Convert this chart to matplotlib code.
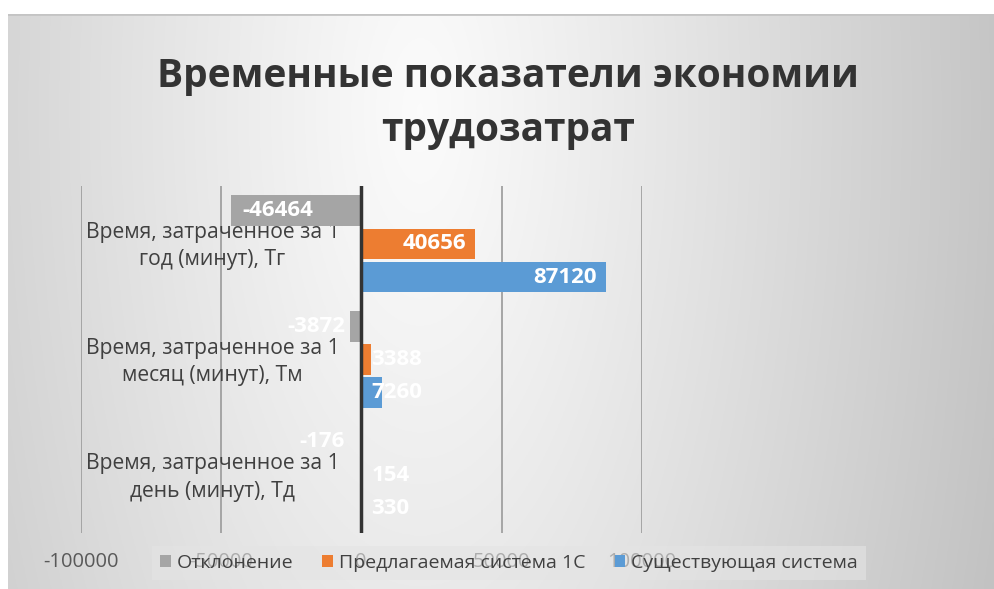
import numpy as np
import matplotlib
matplotlib.use("Agg")
import matplotlib.pyplot as plt
import matplotlib.transforms as mtransforms

# data
categories = ["Время, затраченное за 1\nдень (минут), Тд",
              "Время, затраченное за 1\nмесяц (минут), Тм",
              "Время, затраченное за 1\nгод (минут), Тг"]
series_names = ["Отклонение", "Предлагаемая система 1С", "Существующая система"]
deviation = [-176, -3872, -46464]
proposed = [154, 3388, 40656]
existing = [330, 7260, 87120]
x_ticks = [-100000, -50000, 0, 50000, 100000]
colors = ["#a5a5a5", "#ed7d31", "#5b9bd5"]

plt.rcParams["font.family"] = ["Open Sans", "DejaVu Sans"]

W, H = 994, 589
fig = plt.figure(figsize=(W / 100, H / 100), dpi=100)
fig.patch.set_facecolor("white")

# radial gradient background of the chart area
bg = fig.add_axes([8 / W, 0, 1 - 8 / W, (H - 14) / H])
gx, gy = np.meshgrid(np.linspace(8, W, 400), np.linspace(14, H, 240))
d = np.sqrt(((gx - 420) / 600) ** 2 + ((gy - 110) / 1400) ** 2)
shade = np.clip(0.985 - 0.22 * d ** 1.1, 0.72, 0.985)
bg.imshow(np.dstack([shade] * 3), aspect="auto", extent=[0, 1, 0, 1])
bg.axhline(1, color="#c4c4c4", linewidth=2)
bg.set_axis_off()

ax = fig.add_axes([80.5 / W, (H - 533) / H, (642 - 80.5) / W, (533 - 186) / H])
ax.patch.set_alpha(0)

y = np.arange(len(categories))
step = 0.287
bh = 0.265
for k, (vals, name, c) in enumerate(zip([deviation, proposed, existing], series_names, colors)):
    pos = y + step * (1 - k)
    ax.barh(pos, vals, height=bh, color=c, label=name, zorder=3)
    for p, v in zip(pos, vals):
        big = abs(v) > 20000
        if v >= 0:
            xv, off, ha = (v, -9, "right") if big else (0, 10, "left")
        else:
            xv, off, ha = (v, 12, "left") if big else (0, -16, "right")
        tr = ax.transData + mtransforms.ScaledTranslation(off / 100, 0, fig.dpi_scale_trans)
        ax.text(xv, p, f"{v}", transform=tr, ha=ha, va="center", color="white",
                fontsize=16, fontweight="bold", zorder=4)

ax.set_xlim(-100000, 100000)
ax.set_ylim(-0.5, 2.5)
ax.set_xticks(x_ticks)
ax.set_xticklabels([str(t) for t in x_ticks])
ax.tick_params(axis="x", length=0, pad=14, labelsize=14.5, labelcolor="#595959")
ax.set_yticks([])
ax.grid(axis="x", color="#a0a0a0", linewidth=1.3, zorder=0)
ax.axvline(0, color="#333333", linewidth=2.5, zorder=5)
for s in ax.spines.values():
    s.set_visible(False)

# category labels next to the zero line
lab_tr = ax.transData + mtransforms.ScaledTranslation(-22 / 100, 0, fig.dpi_scale_trans)
for p, c in zip(y, categories):
    ax.text(0, p - 0.02, c, transform=lab_tr, ha="right", va="center",
            multialignment="center", fontsize=15.2, color="#404040",
            linespacing=1.4, zorder=2)

fig.text(0.511, (H - 103) / H, "Временные показатели экономии\nтрудозатрат", ha="center",
         va="center", fontsize=28, fontweight="bold", color="#333333", linespacing=1.5)

leg = ax.legend(loc="center", bbox_to_anchor=(509 / W, (H - 563) / H),
                bbox_transform=fig.transFigure, ncol=3, frameon=True, fontsize=14,
                handlelength=0.55, handleheight=0.55, handletextpad=0.3, columnspacing=1.5,
                borderpad=0.4, labelcolor="#404040")
leg.get_frame().set_facecolor("#e4e4e4")
leg.get_frame().set_alpha(0.6)
leg.get_frame().set_edgecolor("none")
leg.get_frame().set_boxstyle("square", pad=0)

fig.savefig("out.png", dpi=100)
